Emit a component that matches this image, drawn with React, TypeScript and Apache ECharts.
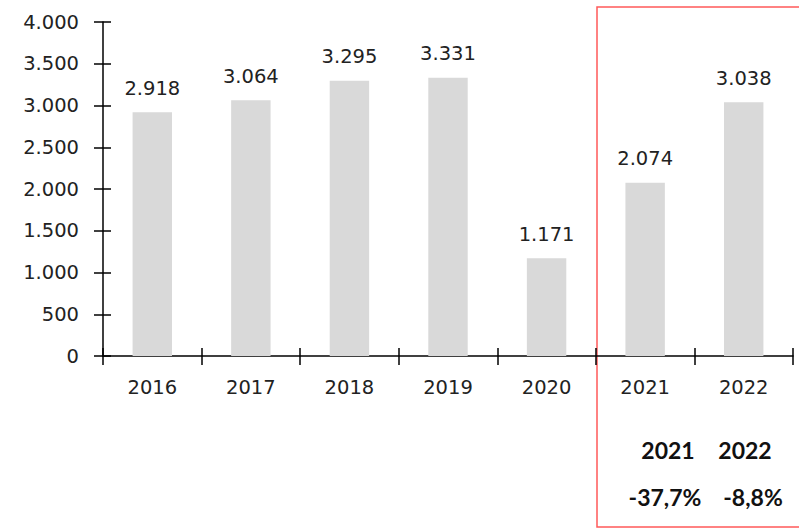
import React, { useEffect, useRef } from "react";
import * as echarts from "echarts";

const categories = ["2016", "2017", "2018", "2019", "2020", "2021", "2022"];
const values = [2918, 3064, 3295, 3331, 1171, 2074, 3038];
const yTicks = [0, 500, 1000, 1500, 2000, 2500, 3000, 3500, 4000];
const growthYears = ["2021", "2022"];
const growthValues = ["-37,7%", "-8,8%"];

const fmt = (v: number) => {
  const s = String(Math.round(v));
  return s.replace(/\B(?=(\d{3})+(?!\d))/g, ".");
};

const FONT = "DejaVu Sans";

export default function App() {
  const ref = useRef<HTMLDivElement>(null);
  useEffect(() => {
    if (!ref.current) return;
    const chart = echarts.init(ref.current, null, { renderer: "svg" });
    const axisLine = { show: true, lineStyle: { color: "#000", width: 1.5 } };
    const tickStyle = { color: "#000", width: 1.5 };
    chart.setOption({
      animation: false,
      backgroundColor: "#fff",
      grid: { left: 103, right: 6, top: 22, bottom: 173, containLabel: false },
      xAxis: [
        {
          type: "category",
          data: categories,
          axisLine,
          axisTick: { show: true, length: 9, lineStyle: tickStyle },
          axisLabel: { color: "#222", fontFamily: FONT, fontSize: 19.5, margin: 21 },
        },
        {
          type: "category",
          data: categories,
          position: "bottom",
          axisLine: { show: false },
          axisTick: { show: true, inside: true, length: 8, lineStyle: tickStyle },
          axisLabel: { show: false },
        },
      ],
      yAxis: [
        {
          type: "value",
          min: yTicks[0],
          max: yTicks[yTicks.length - 1],
          interval: 500,
          splitLine: { show: false },
          axisLine,
          axisTick: { show: true, length: 9, lineStyle: tickStyle },
          axisLabel: {
            color: "#222",
            fontFamily: FONT,
            fontSize: 19.5,
            margin: 24,
            formatter: (v: number) => fmt(v),
          },
        },
        {
          type: "value",
          min: yTicks[0],
          max: yTicks[yTicks.length - 1],
          interval: 500,
          position: "left",
          splitLine: { show: false },
          axisLine: { show: false },
          axisTick: { show: true, inside: true, length: 8, lineStyle: tickStyle },
          axisLabel: { show: false },
        },
      ],
      series: [
        {
          type: "bar",
          data: values,
          barWidth: "40%",
          itemStyle: { color: "#d9d9d9" },
          label: {
            show: true,
            position: "top",
            distance: 14,
            color: "#222",
            fontFamily: FONT,
            fontSize: 19.5,
            formatter: (p: any) => fmt(p.value),
          },
        },
      ],
      graphic: [
        {
          type: "rect",
          shape: { x: 597, y: 7, width: 215, height: 520 },
          style: { fill: "none", stroke: "#ff5a5a", lineWidth: 1.5 },
        },
        ...growthYears.map((t, i) => ({
          type: "text",
          x: [668, 745][i],
          y: 450,
          style: {
            text: t,
            fill: "#111",
            font: "bold 23px Lato",
            align: "center",
            verticalAlign: "middle",
          },
        })),
        ...growthValues.map((t, i) => ({
          type: "text",
          x: [665, 753][i],
          y: 497,
          style: {
            text: t,
            fill: "#111",
            font: "bold 23px Lato",
            align: "center",
            verticalAlign: "middle",
          },
        })),
      ],
    });
    return () => chart.dispose();
  }, []);
  return (
    <div
      ref={ref}
      style={{ position: "absolute", left: 0, top: 0, width: 799, height: 529 }}
    />
  );
}
